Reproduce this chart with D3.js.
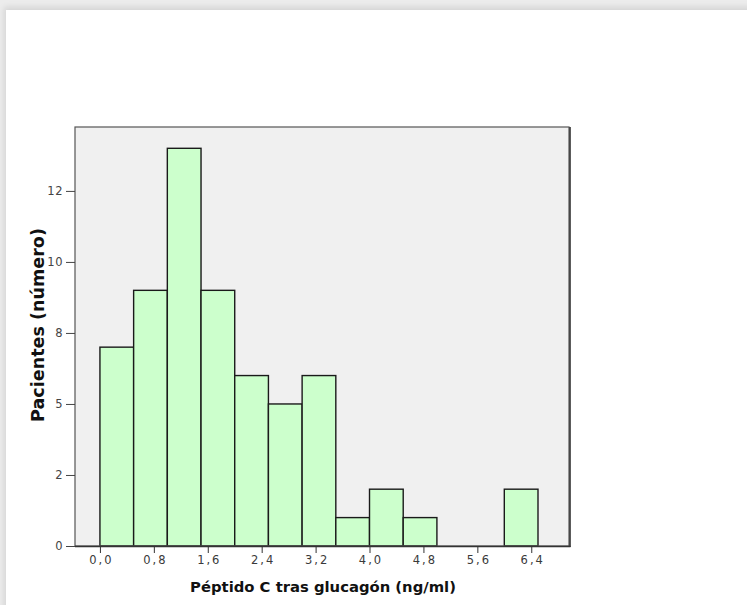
<!DOCTYPE html>
<html>
<head>
<meta charset="utf-8">
<script src="https://cdn.jsdelivr.net/npm/d3@7/dist/d3.min.js"></script>
<style>
  html, body { margin: 0; padding: 0; background: #ececec; }
  #page {
    position: absolute; left: 6px; top: 10px; width: 760px; height: 620px;
    background: #ffffff;
    box-shadow: -2px -3px 6px rgba(0,0,0,0.10);
  }
  svg { position: absolute; left: 0; top: 0; }
</style>
</head>
<body>
<div id="page"></div>
<svg id="chart" width="747" height="605"></svg>
<script>
// Histogram bins (lower edges, width 0.5 ng/ml) and patient counts
const binStarts = [0.0, 0.5, 1.0, 1.5, 2.0, 2.5, 3.0, 3.5, 4.0, 4.5, 5.0, 5.5, 6.0];
const binWidth = 0.5;
const counts = [7, 9, 14, 9, 6, 5, 6, 1, 2, 1, 0, 0, 2];

// Axis ticks and their printed labels
const xTicks = [0.0, 0.8, 1.6, 2.4, 3.2, 4.0, 4.8, 5.6, 6.4];
const xTickLabels = ["0,0", "0,8", "1,6", "2,4", "3,2", "4,0", "4,8", "5,6", "6,4"];
const yTicks = [0, 2.5, 5, 7.5, 10, 12.5];
const yTickLabels = ["0", "2", "5", "8", "10", "12"];

const FONT = "DejaVu Sans, Verdana, sans-serif";
const svg = d3.select("#chart");
const plot = { left: 75, right: 569, top: 127, bottom: 546 };

const x = d3.scaleLinear().domain([-0.37, 6.96]).range([plot.left, plot.right]);
const y = d3.scaleLinear().domain([0, 14.75]).range([plot.bottom, plot.top]);

// plot background
svg.append("rect")
  .attr("x", plot.left).attr("y", plot.top)
  .attr("width", plot.right - plot.left).attr("height", plot.bottom - plot.top)
  .attr("fill", "#f0f0f0");

// bars
svg.append("g").selectAll("rect")
  .data(binStarts.map((s, i) => ({ s, c: counts[i] })).filter(d => d.c > 0))
  .join("rect")
  .attr("x", d => x(d.s))
  .attr("y", d => y(d.c))
  .attr("width", d => x(d.s + binWidth) - x(d.s))
  .attr("height", d => y(0) - y(d.c))
  .attr("fill", "#ccffcc")
  .attr("stroke", "#1a1a1a")
  .attr("stroke-width", 1.4);

// frame with darker right/bottom edges
svg.append("rect")
  .attr("x", plot.left).attr("y", plot.top)
  .attr("width", plot.right - plot.left).attr("height", plot.bottom - plot.top)
  .attr("fill", "none").attr("stroke", "#555").attr("stroke-width", 1.2);
svg.append("line")
  .attr("x1", plot.right + 1).attr("x2", plot.right + 1)
  .attr("y1", plot.top).attr("y2", plot.bottom + 1)
  .attr("stroke", "#333").attr("stroke-width", 1.6);
svg.append("line")
  .attr("x1", plot.left).attr("x2", plot.right + 1.5)
  .attr("y1", plot.bottom + 0.5).attr("y2", plot.bottom + 0.5)
  .attr("stroke", "#333").attr("stroke-width", 1.6);

// x axis
const xAxis = d3.axisBottom(x)
  .tickValues(xTicks)
  .tickSize(7)
  .tickPadding(3)
  .tickFormat((d, i) => xTickLabels[i]);
const gx = svg.append("g").attr("transform", `translate(0,${plot.bottom})`).call(xAxis);
gx.select(".domain").remove();
gx.selectAll("line").attr("stroke", "#333");
gx.selectAll("text")
  .attr("font-family", FONT).attr("font-size", 11.5).attr("fill", "#3a3a3a")
  .attr("letter-spacing", 2).attr("dx", 1);

// y axis
const yAxis = d3.axisLeft(y)
  .tickValues(yTicks)
  .tickSize(9)
  .tickPadding(3)
  .tickFormat((d, i) => yTickLabels[i]);
const gy = svg.append("g").attr("transform", `translate(${plot.left},0)`).call(yAxis);
gy.select(".domain").remove();
gy.selectAll("line").attr("stroke", "#444");
gy.selectAll("text")
  .attr("font-family", FONT).attr("font-size", 11.5).attr("fill", "#444")
  .attr("letter-spacing", 0.5);

// scale a title's font so it spans the given length
function fitText(sel, target) {
  const base = +sel.attr("font-size");
  const len = sel.node().getComputedTextLength();
  sel.attr("font-size", base * target / len);
}

// axis titles
const xTitle = svg.append("text")
  .attr("x", 323).attr("y", 592)
  .attr("text-anchor", "middle")
  .attr("font-family", FONT)
  .attr("font-size", 13).attr("font-weight", "bold").attr("fill", "#111")
  .text("Péptido C tras glucagón (ng/ml)");
fitText(xTitle, 266);

const yTitle = svg.append("text")
  .attr("transform", `translate(44,325) rotate(-90)`)
  .attr("text-anchor", "middle")
  .attr("font-family", FONT)
  .attr("font-size", 14).attr("font-weight", "bold").attr("fill", "#111")
  .text("Pacientes (número)");
fitText(yTitle, 194);
</script>
</body>
</html>
